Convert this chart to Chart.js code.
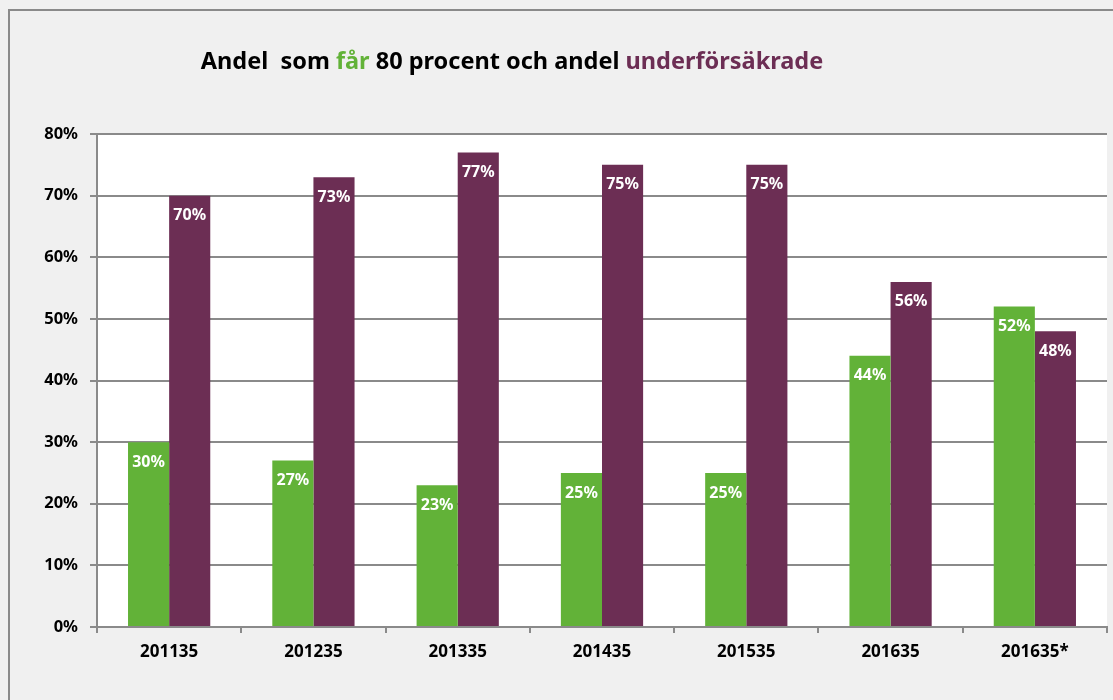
<!DOCTYPE html>
<html lang="sv">
<head>
  <meta charset="UTF-8">
  <title>Andel som får 80 procent och andel underförsäkrade</title>
  <style>
    html, body { margin: 0; padding: 0; background: #f0f0f0; }
    #wrap { width: 1113px; height: 700px; position: relative; }
  </style>
</head>
<body>
  <div id="wrap"><canvas id="diagram" width="1113" height="700"></canvas></div>

  <script src="https://cdn.jsdelivr.net/npm/chart.js"></script>
  <script>
    // data
    const perioder = ['201135', '201235', '201335', '201435', '201535', '201635', '201635*'];
    const andelFar80 = [30, 27, 23, 25, 25, 44, 52];
    const andelUnder = [70, 73, 77, 75, 75, 56, 48];
    const yTicks = [0, 10, 20, 30, 40, 50, 60, 70, 80];

    const GRON = '#62b238';
    const LILA = '#6c2e54';
    const FONT = "'Noto Sans', sans-serif";

    // bakgrund, ram och vit rityta
    const bakgrund = {
      id: 'bakgrund',
      beforeDraw(chart) {
        const c = chart.ctx, a = chart.chartArea;
        c.save();
        c.fillStyle = '#f0f0f0';
        c.fillRect(0, 0, chart.width, chart.height);
        c.strokeStyle = '#8a8a8a';
        c.lineWidth = 2;
        c.strokeRect(9, 10, 1300, 900);
        c.fillStyle = '#ffffff';
        c.fillRect(a.left, a.top, a.right - a.left, a.bottom - a.top);
        c.restore();
      }
    };

    // rubrik med färgade ord
    const rubrik = {
      id: 'rubrik',
      afterDraw(chart) {
        const c = chart.ctx;
        const delar = [
          ['Andel  som ', '#000000'],
          ['får', GRON],
          [' 80 procent och andel ', '#000000'],
          ['underförsäkrade', LILA]
        ];
        c.save();
        c.font = "bold 23.5px " + FONT;
        c.textBaseline = 'middle';
        let total = 0;
        delar.forEach(d => total += c.measureText(d[0]).width);
        let x = 512 - total / 2;
        delar.forEach(d => {
          c.fillStyle = d[1];
          c.fillText(d[0], x, 62);
          x += c.measureText(d[0]).width;
        });
        c.restore();
      }
    };

    // värden inuti staplarna
    const etiketter = {
      id: 'etiketter',
      afterDatasetsDraw(chart) {
        const c = chart.ctx;
        c.save();
        c.font = "bold 16px " + FONT;
        c.fillStyle = '#ffffff';
        c.textAlign = 'center';
        c.textBaseline = 'middle';
        chart.data.datasets.forEach((ds, i) => {
          chart.getDatasetMeta(i).data.forEach((bar, j) => {
            c.fillText(ds.data[j] + '%', bar.x, bar.y + 20);
          });
        });
        c.restore();
      }
    };

    new Chart(document.getElementById('diagram'), {
      type: 'bar',
      data: {
        labels: perioder,
        datasets: [
          { label: 'får 80 procent', data: andelFar80, backgroundColor: GRON },
          { label: 'underförsäkrade', data: andelUnder, backgroundColor: LILA }
        ]
      },
      options: {
        responsive: false,
        animation: false,
        devicePixelRatio: 1,
        layout: { padding: { left: 10, right: 6, top: 134, bottom: 0 } },
        datasets: { bar: { categoryPercentage: 0.57, barPercentage: 1.0 } },
        plugins: { legend: { display: false }, tooltip: { enabled: false } },
        scales: {
          x: {
            afterFit(s) { s.height = 73; },
            grid: { drawOnChartArea: false, drawTicks: true, tickLength: 6, color: '#8a8a8a', lineWidth: 2 },
            border: { color: '#8a8a8a', width: 2 },
            ticks: { color: '#000', font: { family: FONT, weight: 'bold', size: 17 }, padding: 9 }
          },
          y: {
            min: 0,
            max: 80,
            afterFit(s) { s.width = 87; },
            afterBuildTicks(s) { s.ticks = yTicks.map(v => ({ value: v })); },
            grid: { color: '#8a8a8a', lineWidth: 2, tickLength: 7 },
            border: { color: '#8a8a8a', width: 2 },
            ticks: {
              color: '#000',
              font: { family: FONT, weight: 'bold', size: 16.5 },
              padding: 12,
              callback: v => v + '%'
            }
          }
        }
      },
      plugins: [bakgrund, rubrik, etiketter]
    });
  </script>
</body>
</html>
